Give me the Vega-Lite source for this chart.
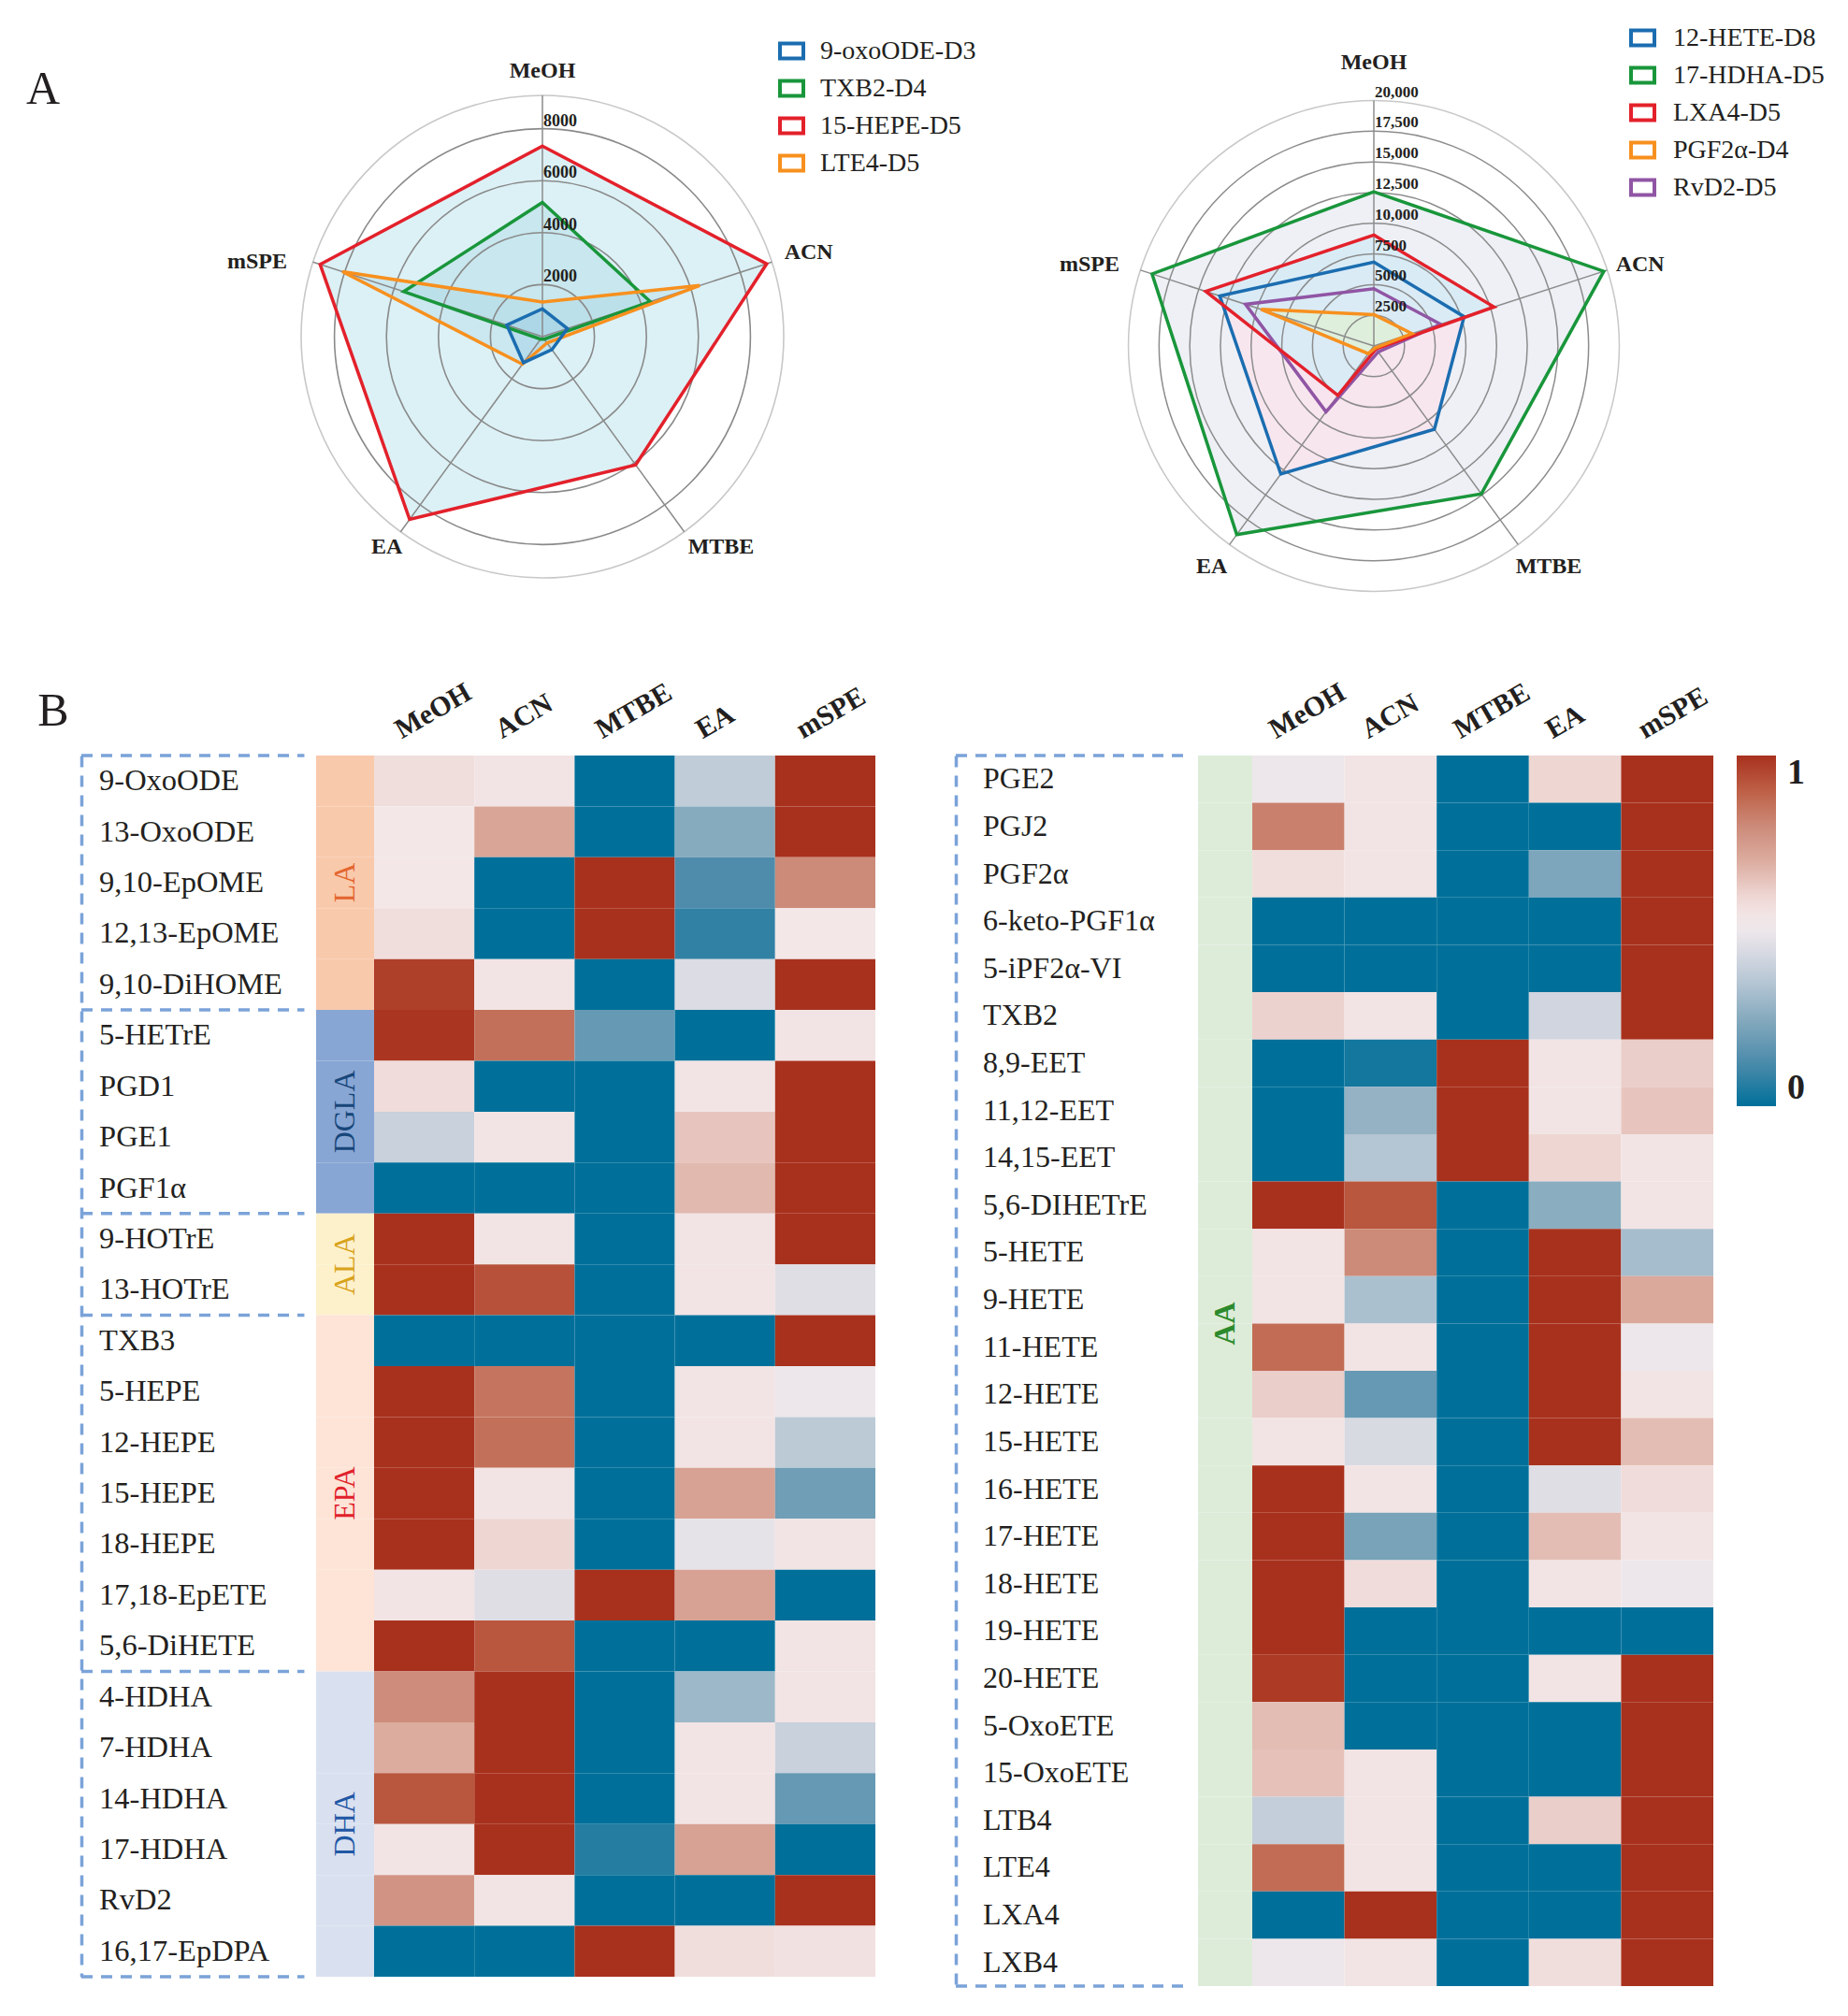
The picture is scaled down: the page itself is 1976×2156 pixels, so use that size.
{
  "$schema": "https://vega.github.io/schema/vega-lite/v6.json",
  "background": "white",
  "padding": {"left": 27, "top": 26, "right": 5, "bottom": 5},
  "config": {"view": {"stroke": null}, "font": "Liberation Serif"},
  "datasets": {
    "radarA": [
      {"series": "15-HEPE-D5", "axis": "MeOH", "value": 7330},
      {"series": "15-HEPE-D5", "axis": "ACN", "value": 9070},
      {"series": "15-HEPE-D5", "axis": "MTBE", "value": 6100},
      {"series": "15-HEPE-D5", "axis": "EA", "value": 8690},
      {"series": "15-HEPE-D5", "axis": "mSPE", "value": 8990},
      {"series": "TXB2-D4", "axis": "MeOH", "value": 5160},
      {"series": "TXB2-D4", "axis": "ACN", "value": 4360},
      {"series": "TXB2-D4", "axis": "MTBE", "value": 120},
      {"series": "TXB2-D4", "axis": "EA", "value": 120},
      {"series": "TXB2-D4", "axis": "mSPE", "value": 5610},
      {"series": "LTE4-D5", "axis": "MeOH", "value": 1330},
      {"series": "LTE4-D5", "axis": "ACN", "value": 6360},
      {"series": "LTE4-D5", "axis": "MTBE", "value": 300},
      {"series": "LTE4-D5", "axis": "EA", "value": 1310},
      {"series": "LTE4-D5", "axis": "mSPE", "value": 8090},
      {"series": "9-oxoODE-D3", "axis": "MeOH", "value": 1070},
      {"series": "9-oxoODE-D3", "axis": "ACN", "value": 1010},
      {"series": "9-oxoODE-D3", "axis": "MTBE", "value": 620},
      {"series": "9-oxoODE-D3", "axis": "EA", "value": 1240},
      {"series": "9-oxoODE-D3", "axis": "mSPE", "value": 1440}
    ],
    "radarB": [
      {"series": "17-HDHA-D5", "axis": "MeOH", "value": 12560},
      {"series": "17-HDHA-D5", "axis": "ACN", "value": 19700},
      {"series": "17-HDHA-D5", "axis": "MTBE", "value": 14900},
      {"series": "17-HDHA-D5", "axis": "EA", "value": 19000},
      {"series": "17-HDHA-D5", "axis": "mSPE", "value": 19000},
      {"series": "12-HETE-D8", "axis": "MeOH", "value": 6840},
      {"series": "12-HETE-D8", "axis": "ACN", "value": 7730},
      {"series": "12-HETE-D8", "axis": "MTBE", "value": 8390},
      {"series": "12-HETE-D8", "axis": "EA", "value": 12900},
      {"series": "12-HETE-D8", "axis": "mSPE", "value": 13200},
      {"series": "RvD2-D5", "axis": "MeOH", "value": 4670},
      {"series": "RvD2-D5", "axis": "ACN", "value": 5720},
      {"series": "RvD2-D5", "axis": "MTBE", "value": 600},
      {"series": "RvD2-D5", "axis": "EA", "value": 6630},
      {"series": "RvD2-D5", "axis": "mSPE", "value": 11000},
      {"series": "LXA4-D5", "axis": "MeOH", "value": 9040},
      {"series": "LXA4-D5", "axis": "ACN", "value": 10300},
      {"series": "LXA4-D5", "axis": "MTBE", "value": 300},
      {"series": "LXA4-D5", "axis": "EA", "value": 4980},
      {"series": "LXA4-D5", "axis": "mSPE", "value": 14400},
      {"series": "PGF2α-D4", "axis": "MeOH", "value": 2560},
      {"series": "PGF2α-D4", "axis": "ACN", "value": 3260},
      {"series": "PGF2α-D4", "axis": "MTBE", "value": 200},
      {"series": "PGF2α-D4", "axis": "EA", "value": 770},
      {"series": "PGF2α-D4", "axis": "mSPE", "value": 9660}
    ],
    "axes": [{"axis": "MeOH"}, {"axis": "ACN"}, {"axis": "MTBE"}, {"axis": "EA"}, {"axis": "mSPE"}],
    "ringsA": [
      {"r": 2000, "label": "2000"}, {"r": 4000, "label": "4000"}, {"r": 6000, "label": "6000"}, {"r": 8000, "label": "8000"}, {"r": 9280, "label": ""}
    ],
    "ringsB": [
      {"r": 2500, "label": "2500"}, {"r": 5000, "label": "5000"}, {"r": 7500, "label": "7500"}, {"r": 10000, "label": "10,000"},
      {"r": 12500, "label": "12,500"}, {"r": 15000, "label": "15,000"}, {"r": 17500, "label": "17,500"}, {"r": 20000, "label": "20,000"}
    ],
    "lblA": [{"t": "A"}],
    "lblB": [{"t": "B"}],
    "heatL": [
      {"group": "LA", "name": "9-OxoODE", "MeOH": 0.57, "ACN": 0.55, "MTBE": 0, "EA": 0.38, "mSPE": 1},
      {"group": "LA", "name": "13-OxoODE", "MeOH": 0.54, "ACN": 0.72, "MTBE": 0, "EA": 0.25, "mSPE": 1},
      {"group": "LA", "name": "9,10-EpOME", "MeOH": 0.54, "ACN": 0, "MTBE": 1, "EA": 0.13, "mSPE": 0.8},
      {"group": "LA", "name": "12,13-EpOME", "MeOH": 0.57, "ACN": 0, "MTBE": 1, "EA": 0.08, "mSPE": 0.54},
      {"group": "LA", "name": "9,10-DiHOME", "MeOH": 0.97, "ACN": 0.55, "MTBE": 0, "EA": 0.45, "mSPE": 1},
      {"group": "DGLA", "name": "5-HETrE", "MeOH": 0.99, "ACN": 0.86, "MTBE": 0.18, "EA": 0, "mSPE": 0.55},
      {"group": "DGLA", "name": "PGD1", "MeOH": 0.58, "ACN": 0, "MTBE": 0, "EA": 0.55, "mSPE": 1},
      {"group": "DGLA", "name": "PGE1", "MeOH": 0.4, "ACN": 0.55, "MTBE": 0, "EA": 0.64, "mSPE": 1},
      {"group": "DGLA", "name": "PGF1α", "MeOH": 0, "ACN": 0, "MTBE": 0, "EA": 0.67, "mSPE": 1},
      {"group": "ALA", "name": "9-HOTrE", "MeOH": 1, "ACN": 0.55, "MTBE": 0, "EA": 0.55, "mSPE": 1},
      {"group": "ALA", "name": "13-HOTrE", "MeOH": 1, "ACN": 0.93, "MTBE": 0, "EA": 0.55, "mSPE": 0.46},
      {"group": "EPA", "name": "TXB3", "MeOH": 0, "ACN": 0, "MTBE": 0, "EA": 0, "mSPE": 1},
      {"group": "EPA", "name": "5-HEPE", "MeOH": 1, "ACN": 0.85, "MTBE": 0, "EA": 0.55, "mSPE": 0.5},
      {"group": "EPA", "name": "12-HEPE", "MeOH": 1, "ACN": 0.86, "MTBE": 0, "EA": 0.55, "mSPE": 0.37},
      {"group": "EPA", "name": "15-HEPE", "MeOH": 1, "ACN": 0.55, "MTBE": 0, "EA": 0.73, "mSPE": 0.2},
      {"group": "EPA", "name": "18-HEPE", "MeOH": 1, "ACN": 0.6, "MTBE": 0, "EA": 0.48, "mSPE": 0.55},
      {"group": "EPA", "name": "17,18-EpETE", "MeOH": 0.55, "ACN": 0.46, "MTBE": 1, "EA": 0.73, "mSPE": 0},
      {"group": "EPA", "name": "5,6-DiHETE", "MeOH": 1, "ACN": 0.92, "MTBE": 0, "EA": 0, "mSPE": 0.55},
      {"group": "DHA", "name": "4-HDHA", "MeOH": 0.79, "ACN": 1, "MTBE": 0, "EA": 0.3, "mSPE": 0.55},
      {"group": "DHA", "name": "7-HDHA", "MeOH": 0.7, "ACN": 1, "MTBE": 0, "EA": 0.55, "mSPE": 0.4},
      {"group": "DHA", "name": "14-HDHA", "MeOH": 0.92, "ACN": 1, "MTBE": 0, "EA": 0.55, "mSPE": 0.18},
      {"group": "DHA", "name": "17-HDHA", "MeOH": 0.55, "ACN": 1, "MTBE": 0.06, "EA": 0.73, "mSPE": 0},
      {"group": "DHA", "name": "RvD2", "MeOH": 0.77, "ACN": 0.55, "MTBE": 0, "EA": 0, "mSPE": 1},
      {"group": "DHA", "name": "16,17-EpDPA", "MeOH": 0, "ACN": 0, "MTBE": 1, "EA": 0.57, "mSPE": 0.56}
    ],
    "heatR": [
      {"group": "AA", "name": "PGE2", "MeOH": 0.5, "ACN": 0.55, "MTBE": 0, "EA": 0.6, "mSPE": 1},
      {"group": "AA", "name": "PGJ2", "MeOH": 0.82, "ACN": 0.55, "MTBE": 0, "EA": 0, "mSPE": 1},
      {"group": "AA", "name": "PGF2α", "MeOH": 0.57, "ACN": 0.55, "MTBE": 0, "EA": 0.23, "mSPE": 1},
      {"group": "AA", "name": "6-keto-PGF1α", "MeOH": 0, "ACN": 0, "MTBE": 0, "EA": 0, "mSPE": 1},
      {"group": "AA", "name": "5-iPF2α-VI", "MeOH": 0, "ACN": 0, "MTBE": 0, "EA": 0, "mSPE": 1},
      {"group": "AA", "name": "TXB2", "MeOH": 0.61, "ACN": 0.55, "MTBE": 0, "EA": 0.42, "mSPE": 1},
      {"group": "AA", "name": "8,9-EET", "MeOH": 0, "ACN": 0.03, "MTBE": 1, "EA": 0.55, "mSPE": 0.62},
      {"group": "AA", "name": "11,12-EET", "MeOH": 0, "ACN": 0.28, "MTBE": 1, "EA": 0.55, "mSPE": 0.64},
      {"group": "AA", "name": "14,15-EET", "MeOH": 0, "ACN": 0.35, "MTBE": 1, "EA": 0.6, "mSPE": 0.55},
      {"group": "AA", "name": "5,6-DIHETrE", "MeOH": 1, "ACN": 0.92, "MTBE": 0, "EA": 0.26, "mSPE": 0.55},
      {"group": "AA", "name": "5-HETE", "MeOH": 0.55, "ACN": 0.8, "MTBE": 0, "EA": 1, "mSPE": 0.32},
      {"group": "AA", "name": "9-HETE", "MeOH": 0.55, "ACN": 0.33, "MTBE": 0, "EA": 1, "mSPE": 0.71},
      {"group": "AA", "name": "11-HETE", "MeOH": 0.87, "ACN": 0.55, "MTBE": 0, "EA": 1, "mSPE": 0.5},
      {"group": "AA", "name": "12-HETE", "MeOH": 0.62, "ACN": 0.18, "MTBE": 0, "EA": 1, "mSPE": 0.55},
      {"group": "AA", "name": "15-HETE", "MeOH": 0.55, "ACN": 0.44, "MTBE": 0, "EA": 1, "mSPE": 0.66},
      {"group": "AA", "name": "16-HETE", "MeOH": 1, "ACN": 0.55, "MTBE": 0, "EA": 0.46, "mSPE": 0.58},
      {"group": "AA", "name": "17-HETE", "MeOH": 1, "ACN": 0.22, "MTBE": 0, "EA": 0.66, "mSPE": 0.55},
      {"group": "AA", "name": "18-HETE", "MeOH": 1, "ACN": 0.58, "MTBE": 0, "EA": 0.55, "mSPE": 0.5},
      {"group": "AA", "name": "19-HETE", "MeOH": 1, "ACN": 0, "MTBE": 0, "EA": 0, "mSPE": 0},
      {"group": "AA", "name": "20-HETE", "MeOH": 0.98, "ACN": 0, "MTBE": 0, "EA": 0.55, "mSPE": 1},
      {"group": "AA", "name": "5-OxoETE", "MeOH": 0.66, "ACN": 0, "MTBE": 0, "EA": 0, "mSPE": 1},
      {"group": "AA", "name": "15-OxoETE", "MeOH": 0.65, "ACN": 0.55, "MTBE": 0, "EA": 0, "mSPE": 1},
      {"group": "AA", "name": "LTB4", "MeOH": 0.39, "ACN": 0.55, "MTBE": 0, "EA": 0.62, "mSPE": 1},
      {"group": "AA", "name": "LTE4", "MeOH": 0.87, "ACN": 0.55, "MTBE": 0, "EA": 0, "mSPE": 1},
      {"group": "AA", "name": "LXA4", "MeOH": 0, "ACN": 1, "MTBE": 0, "EA": 0, "mSPE": 1},
      {"group": "AA", "name": "LXB4", "MeOH": 0.5, "ACN": 0.55, "MTBE": 0, "EA": 0.57, "mSPE": 1}
    ]
  },
  "resolve": {"scale": {"color": "independent", "fill": "independent", "size": "independent"}},
  "spacing": -62,
  "vconcat": [
    {
      "spacing": 88,
      "resolve": {"scale": {"color": "independent", "fill": "independent", "size": "independent"}},
      "hconcat": [
        {
          "width": 785,
          "height": 584,
          "layer": [
            {
              "data": {"name": "radarA"},
              "transform": [
                {"calculate": "indexof(['MeOH','ACN','MTBE','EA','mSPE'], datum.axis)", "as": "idx"},
                {"calculate": "PI/2 - datum.idx*2*PI/5", "as": "ang"},
                {"calculate": "datum.value*cos(datum.ang)", "as": "px"},
                {"calculate": "datum.value*sin(datum.ang)", "as": "py"}
              ],
              "mark": {"type": "line", "interpolate": "linear-closed", "filled": true, "strokeWidth": 0},
              "encoding": {
                "x": {"field": "px", "type": "quantitative", "scale": {"domain": [-17733, 10503], "nice": false, "zero": false}, "axis": null},
                "y": {"field": "py", "type": "quantitative", "scale": {"domain": [-10503, 10503], "nice": false, "zero": false}, "axis": null},
                "order": {"field": "idx", "type": "quantitative"},
                "fill": {"field": "series", "type": "nominal", "scale": {"domain": ["15-HEPE-D5", "TXB2-D4", "LTE4-D5", "9-oxoODE-D3"], "range": ["#dcf1f6", "rgba(150,205,220,0.28)", "rgba(150,205,220,0.25)", "rgba(140,195,225,0.3)"]}, "legend": null}
              }
            },
            {
              "data": {"name": "ringsA"},
              "transform": [{"calculate": "0", "as": "z"}],
              "mark": {"type": "point", "shape": "circle", "filled": false, "strokeWidth": 1.6, "opacity": 1},
              "encoding": {
                "x": {"field": "z", "type": "quantitative", "axis": null},
                "y": {"field": "z", "type": "quantitative", "axis": null},
                "size": {"field": "r", "type": "quantitative", "scale": {"type": "pow", "exponent": 2, "zero": true, "domain": [0, 10503], "range": [0, 341056]}, "legend": null},
                "stroke": {"condition": {"test": "datum.r > 8500", "value": "#c8c8c8"}, "value": "#8a8a8a"}
              }
            },
            {
              "data": {"name": "axes"},
              "transform": [
                {"calculate": "indexof(['MeOH','ACN','MTBE','EA','mSPE'], datum.axis)", "as": "idx"},
                {"calculate": "PI/2 - datum.idx*2*PI/5", "as": "ang"},
                {"calculate": "0", "as": "z"},
                {"calculate": "9280*cos(datum.ang)", "as": "ex"},
                {"calculate": "9280*sin(datum.ang)", "as": "ey"}
              ],
              "mark": {"type": "rule", "color": "#8a8a8a", "strokeWidth": 1.5},
              "encoding": {
                "x": {"field": "z", "type": "quantitative", "axis": null},
                "y": {"field": "z", "type": "quantitative", "axis": null},
                "x2": {"field": "ex"},
                "y2": {"field": "ey"}
              }
            },
            {
              "data": {"name": "radarA"},
              "transform": [
                {"calculate": "indexof(['MeOH','ACN','MTBE','EA','mSPE'], datum.axis)", "as": "idx"},
                {"calculate": "PI/2 - datum.idx*2*PI/5", "as": "ang"},
                {"calculate": "datum.value*cos(datum.ang)", "as": "px"},
                {"calculate": "datum.value*sin(datum.ang)", "as": "py"}
              ],
              "mark": {"type": "line", "interpolate": "linear-closed", "strokeWidth": 3.5},
              "encoding": {
                "x": {"field": "px", "type": "quantitative", "axis": null},
                "y": {"field": "py", "type": "quantitative", "axis": null},
                "order": {"field": "idx", "type": "quantitative"},
                "color": {
                  "field": "series", "type": "nominal",
                  "scale": {"domain": ["9-oxoODE-D3", "TXB2-D4", "15-HEPE-D5", "LTE4-D5"], "range": ["#1b6db0", "#19963b", "#e3212b", "#f7901e"]},
                  "legend": {"orient": "none", "legendX": 745, "legendY": -28, "title": null, "symbolType": "M-1,-0.64H1V0.64H-1Z", "symbolSize": 625, "symbolStrokeWidth": 4, "symbolFillColor": "white", "labelFont": "Liberation Serif", "labelFontSize": 28, "labelColor": "#231f20", "labelOffset": 16, "rowPadding": 7, "labelLimit": 400, "padding": 0}
                }
              }
            },
            {
              "data": {"name": "ringsA"},
              "transform": [{"filter": "datum.label != ''"}, {"calculate": "0", "as": "z"}],
              "mark": {"type": "text", "align": "left", "baseline": "alphabetic", "dx": 1, "dy": -3, "fontSize": 18, "fontWeight": "bold", "font": "Liberation Serif", "color": "#231f20"},
              "encoding": {
                "x": {"field": "z", "type": "quantitative", "axis": null},
                "y": {"field": "r", "type": "quantitative", "axis": null},
                "text": {"field": "label"}
              }
            },
            {
              "data": {"name": "axes"},
              "transform": [
                {"filter": "datum.axis == 'MeOH' || datum.axis == 'MTBE' || datum.axis == 'EA'"},
                {"calculate": "datum.axis == 'MeOH' ? 0 : datum.axis == 'MTBE' ? 6869 : -5983", "as": "lx"},
                {"calculate": "datum.axis == 'MeOH' ? 10215 : -8094", "as": "ly"}
              ],
              "mark": {"type": "text", "align": "center", "baseline": "middle", "fontSize": 24, "fontWeight": "bold", "font": "Liberation Serif", "color": "#231f20"},
              "encoding": {
                "x": {"field": "lx", "type": "quantitative", "axis": null},
                "y": {"field": "ly", "type": "quantitative", "axis": null},
                "text": {"field": "axis"}
              }
            },
            {
              "data": {"name": "axes"},
              "transform": [
                {"filter": "datum.axis == 'ACN'"},
                {"calculate": "9305", "as": "lx"},
                {"calculate": "3220", "as": "ly"}
              ],
              "mark": {"type": "text", "align": "left", "baseline": "middle", "fontSize": 24, "fontWeight": "bold", "font": "Liberation Serif", "color": "#231f20"},
              "encoding": {
                "x": {"field": "lx", "type": "quantitative", "axis": null},
                "y": {"field": "ly", "type": "quantitative", "axis": null},
                "text": {"field": "axis"}
              }
            },
            {
              "data": {"name": "axes"},
              "transform": [
                {"filter": "datum.axis == 'mSPE'"},
                {"calculate": "-9818", "as": "lx"},
                {"calculate": "2895", "as": "ly"}
              ],
              "mark": {"type": "text", "align": "right", "baseline": "middle", "fontSize": 24, "fontWeight": "bold", "font": "Liberation Serif", "color": "#231f20"},
              "encoding": {
                "x": {"field": "lx", "type": "quantitative", "axis": null},
                "y": {"field": "ly", "type": "quantitative", "axis": null},
                "text": {"field": "axis"}
              }
            },
            {
              "data": {"name": "lblA"},
              "transform": [{"calculate": "-19208", "as": "tx"}, {"calculate": "8956", "as": "ty"}],
              "mark": {"type": "text", "align": "center", "baseline": "alphabetic", "fontSize": 50, "font": "Liberation Serif", "color": "#231f20"},
              "encoding": {
                "x": {"field": "tx", "type": "quantitative", "axis": null},
                "y": {"field": "ty", "type": "quantitative", "axis": null},
                "text": {"field": "t"}
              }
            },
            {
              "data": {"name": "lblB"},
              "transform": [{"calculate": "-18812", "as": "tx"}, {"calculate": "-14964", "as": "ty"}],
              "mark": {"type": "text", "align": "center", "baseline": "alphabetic", "fontSize": 50, "font": "Liberation Serif", "color": "#231f20"},
              "encoding": {
                "x": {"field": "tx", "type": "quantitative", "axis": null},
                "y": {"field": "ty", "type": "quantitative", "axis": null},
                "text": {"field": "t"}
              }
            }
          ]
        },
        {
          "width": 584,
          "height": 584,
          "layer": [
            {
              "data": {"name": "radarB"},
              "transform": [
                {"calculate": "indexof(['MeOH','ACN','MTBE','EA','mSPE'], datum.axis)", "as": "idx"},
                {"calculate": "PI/2 - datum.idx*2*PI/5", "as": "ang"},
                {"calculate": "datum.value*cos(datum.ang)", "as": "px"},
                {"calculate": "datum.value*sin(datum.ang)", "as": "py"}
              ],
              "mark": {"type": "line", "interpolate": "linear-closed", "filled": true, "strokeWidth": 0},
              "encoding": {
                "x": {"field": "px", "type": "quantitative", "scale": {"domain": [-22250, 22250], "nice": false, "zero": false}, "axis": null},
                "y": {"field": "py", "type": "quantitative", "scale": {"domain": [-21488, 23012], "nice": false, "zero": false}, "axis": null},
                "order": {"field": "idx", "type": "quantitative"},
                "fill": {"field": "series", "type": "nominal", "scale": {"domain": ["17-HDHA-D5", "12-HETE-D8", "RvD2-D5", "LXA4-D5", "PGF2α-D4"], "range": ["#eef0f6", "#f8e6ef", "#f7e4ee", "rgba(214,235,246,0.9)", "rgba(222,240,216,0.9)"]}, "legend": null}
              }
            },
            {
              "data": {"name": "ringsB"},
              "transform": [{"calculate": "0", "as": "z"}],
              "mark": {"type": "point", "shape": "circle", "filled": false, "strokeWidth": 1.5, "opacity": 1},
              "encoding": {
                "x": {"field": "z", "type": "quantitative", "axis": null},
                "y": {"field": "z", "type": "quantitative", "axis": null},
                "size": {"field": "r", "type": "quantitative", "scale": {"type": "pow", "exponent": 2, "zero": true, "domain": [0, 22250], "range": [0, 341056]}, "legend": null},
                "stroke": {"condition": {"test": "datum.r >= 20000", "value": "#c8c8c8"}, "value": "#8c8c8c"}
              }
            },
            {
              "data": {"name": "axes"},
              "transform": [
                {"calculate": "indexof(['MeOH','ACN','MTBE','EA','mSPE'], datum.axis)", "as": "idx"},
                {"calculate": "PI/2 - datum.idx*2*PI/5", "as": "ang"},
                {"calculate": "0", "as": "z"},
                {"calculate": "20000*cos(datum.ang)", "as": "ex"},
                {"calculate": "20000*sin(datum.ang)", "as": "ey"}
              ],
              "mark": {"type": "rule", "color": "#8c8c8c", "strokeWidth": 1.5},
              "encoding": {
                "x": {"field": "z", "type": "quantitative", "axis": null},
                "y": {"field": "z", "type": "quantitative", "axis": null},
                "x2": {"field": "ex"},
                "y2": {"field": "ey"}
              }
            },
            {
              "data": {"name": "radarB"},
              "transform": [
                {"calculate": "indexof(['MeOH','ACN','MTBE','EA','mSPE'], datum.axis)", "as": "idx"},
                {"calculate": "PI/2 - datum.idx*2*PI/5", "as": "ang"},
                {"calculate": "datum.value*cos(datum.ang)", "as": "px"},
                {"calculate": "datum.value*sin(datum.ang)", "as": "py"}
              ],
              "mark": {"type": "line", "interpolate": "linear-closed", "strokeWidth": 3.5},
              "encoding": {
                "x": {"field": "px", "type": "quantitative", "axis": null},
                "y": {"field": "py", "type": "quantitative", "axis": null},
                "order": {"field": "idx", "type": "quantitative"},
                "color": {
                  "field": "series", "type": "nominal",
                  "scale": {"domain": ["12-HETE-D8", "17-HDHA-D5", "LXA4-D5", "PGF2α-D4", "RvD2-D5"], "range": ["#1b6db0", "#19963b", "#e3212b", "#f7901e", "#9055a4"]},
                  "legend": {"orient": "none", "legendX": 565, "legendY": -42, "title": null, "symbolType": "M-1,-0.64H1V0.64H-1Z", "symbolSize": 625, "symbolStrokeWidth": 4, "symbolFillColor": "white", "labelFont": "Liberation Serif", "labelFontSize": 28, "labelColor": "#231f20", "labelOffset": 18, "rowPadding": 7, "labelLimit": 400, "padding": 0}
                }
              }
            },
            {
              "data": {"name": "ringsB"},
              "transform": [{"calculate": "0", "as": "z"}],
              "mark": {"type": "text", "align": "left", "baseline": "alphabetic", "dx": 1, "dy": -4, "fontSize": 17, "fontWeight": "bold", "font": "Liberation Serif", "color": "#231f20"},
              "encoding": {
                "x": {"field": "z", "type": "quantitative", "axis": null},
                "y": {"field": "r", "type": "quantitative", "axis": null},
                "text": {"field": "label"}
              }
            },
            {
              "data": {"name": "axes"},
              "transform": [
                {"filter": "datum.axis == 'MeOH' || datum.axis == 'MTBE' || datum.axis == 'EA'"},
                {"calculate": "datum.axis == 'MeOH' ? 0 : datum.axis == 'MTBE' ? 14253 : -13213", "as": "lx"},
                {"calculate": "datum.axis == 'MeOH' ? 23084 : -17986", "as": "ly"}
              ],
              "mark": {"type": "text", "align": "center", "baseline": "middle", "fontSize": 24, "fontWeight": "bold", "font": "Liberation Serif", "color": "#231f20"},
              "encoding": {
                "x": {"field": "lx", "type": "quantitative", "axis": null},
                "y": {"field": "ly", "type": "quantitative", "axis": null},
                "text": {"field": "axis"}
              }
            },
            {
              "data": {"name": "axes"},
              "transform": [
                {"filter": "datum.axis == 'ACN'"},
                {"calculate": "19712", "as": "lx"},
                {"calculate": "6600", "as": "ly"}
              ],
              "mark": {"type": "text", "align": "left", "baseline": "middle", "fontSize": 24, "fontWeight": "bold", "font": "Liberation Serif", "color": "#231f20"},
              "encoding": {
                "x": {"field": "lx", "type": "quantitative", "axis": null},
                "y": {"field": "ly", "type": "quantitative", "axis": null},
                "text": {"field": "axis"}
              }
            },
            {
              "data": {"name": "axes"},
              "transform": [
                {"filter": "datum.axis == 'mSPE'"},
                {"calculate": "-20726", "as": "lx"},
                {"calculate": "6630", "as": "ly"}
              ],
              "mark": {"type": "text", "align": "right", "baseline": "middle", "fontSize": 24, "fontWeight": "bold", "font": "Liberation Serif", "color": "#231f20"},
              "encoding": {
                "x": {"field": "lx", "type": "quantitative", "axis": null},
                "y": {"field": "ly", "type": "quantitative", "axis": null},
                "text": {"field": "axis"}
              }
            }
          ]
        }
      ]
    },
    {
      "spacing": 84,
      "resolve": {"scale": {"color": "independent", "fill": "independent"}},
      "hconcat": [
        {
          "spacing": 0,
          "resolve": {"scale": {"color": "independent", "fill": "independent"}},
          "hconcat": [
            {
              "width": 251,
              "height": 1306,
              "data": {"name": "heatL"},
              "transform": [{"calculate": "0.076", "as": "tx"}, {"calculate": "0", "as": "x0"}, {"calculate": "0.95", "as": "x1"}],
              "layer": [
                {
                  "mark": {"type": "text", "align": "left", "baseline": "middle", "fontSize": 32.5, "font": "Liberation Serif", "color": "#231f20"},
                  "encoding": {
                    "y": {"field": "name", "type": "nominal", "sort": null, "axis": {"orient": "left", "labels": false, "ticks": false, "title": null, "grid": false, "domain": true, "domainDash": [12, 9], "domainColor": "#7ba3d9", "domainWidth": 3.5}},
                    "x": {"field": "tx", "type": "quantitative", "scale": {"domain": [0, 1], "nice": false, "zero": false}, "axis": null},
                    "text": {"field": "name"}
                  }
                },
                {
                  "transform": [{"filter": "indexof(['9-OxoODE','5-HETrE','9-HOTrE','TXB3','4-HDHA'], datum.name) >= 0"}],
                  "mark": {"type": "rule", "strokeDash": [12, 9], "strokeWidth": 3.5, "color": "#7ba3d9"},
                  "encoding": {
                    "y": {"field": "name", "type": "nominal", "sort": null, "bandPosition": 0},
                    "x": {"field": "x0", "type": "quantitative"},
                    "x2": {"field": "x1"}
                  }
                },
                {
                  "transform": [{"filter": "datum.name == '16,17-EpDPA'"}],
                  "mark": {"type": "rule", "strokeDash": [12, 9], "strokeWidth": 3.5, "color": "#7ba3d9"},
                  "encoding": {
                    "y": {"field": "name", "type": "nominal", "sort": null, "bandPosition": 1},
                    "x": {"field": "x0", "type": "quantitative"},
                    "x2": {"field": "x1"}
                  }
                }
              ]
            },
            {
              "width": 62,
              "height": 1306,
              "data": {"name": "heatL"},
              "layer": [
                {
                  "mark": {"type": "rect"},
                  "encoding": {
                    "y": {"field": "name", "type": "nominal", "sort": null, "axis": null, "scale": {"paddingInner": 0, "paddingOuter": 0}},
                    "fill": {"field": "group", "type": "nominal", "scale": {"domain": ["LA", "DGLA", "ALA", "EPA", "DHA"], "range": ["#f9c9ab", "#88a6d4", "#fdf1cc", "#fde4d7", "#d9e0ef"]}, "legend": null}
                  }
                },
                {
                  "transform": [{"filter": "indexof(['9,10-EpOME','15-HEPE'], datum.name) >= 0"}],
                  "mark": {"type": "text", "angle": 270, "align": "center", "baseline": "middle", "fontSize": 32, "font": "Liberation Serif"},
                  "encoding": {
                    "y": {"field": "name", "type": "nominal", "sort": null, "bandPosition": 0.5},
                    "text": {"field": "group"},
                    "color": {"field": "group", "type": "nominal", "scale": {"domain": ["LA", "DGLA", "ALA", "EPA", "DHA"], "range": ["#e4652f", "#17467a", "#d9a31b", "#e1212b", "#1f57a5"]}, "legend": null}
                  }
                },
                {
                  "transform": [{"filter": "indexof(['PGE1','13-HOTrE','17-HDHA'], datum.name) >= 0"}],
                  "mark": {"type": "text", "angle": 270, "align": "center", "baseline": "middle", "fontSize": 32, "font": "Liberation Serif"},
                  "encoding": {
                    "y": {"field": "name", "type": "nominal", "sort": null, "bandPosition": 0},
                    "text": {"field": "group"},
                    "color": {"field": "group", "type": "nominal", "scale": {"domain": ["LA", "DGLA", "ALA", "EPA", "DHA"], "range": ["#e4652f", "#17467a", "#d9a31b", "#e1212b", "#1f57a5"]}, "legend": null}
                  }
                }
              ]
            },
            {
              "width": 536,
              "height": 1306,
              "data": {"name": "heatL"},
              "transform": [{"fold": ["MeOH", "ACN", "MTBE", "EA", "mSPE"], "as": ["col", "v"]}],
              "mark": {"type": "rect"},
              "encoding": {
                "x": {"field": "col", "type": "nominal", "sort": ["MeOH", "ACN", "MTBE", "EA", "mSPE"], "scale": {"paddingInner": 0, "paddingOuter": 0},
                  "axis": {"orient": "top", "title": null, "labelAngle": -30, "labelAlign": "left", "labelBaseline": "alphabetic", "labelFont": "Liberation Serif", "labelFontSize": 30, "labelFontWeight": "bold", "labelColor": "#231f20", "labelOffset": -24, "labelPadding": 18, "ticks": false, "tickSize": 0, "domain": false}},
                "y": {"field": "name", "type": "nominal", "sort": null, "axis": null, "scale": {"paddingInner": 0, "paddingOuter": 0}},
                "color": {"field": "v", "type": "quantitative",
                  "scale": {"domain": [0, 0.12, 0.25, 0.35, 0.45, 0.52, 0.6, 0.7, 0.8, 0.9, 1], "range": ["#00709a", "#4a8aaa", "#86aabe", "#b4c5d3", "#dcdce4", "#f4ecee", "#eed6d3", "#dcac9f", "#cc8a78", "#bd5f46", "#a8311d"], "interpolate": "rgb"},
                  "legend": null}
              }
            }
          ]
        },
        {
          "spacing": 0,
          "resolve": {"scale": {"color": "independent", "fill": "independent"}},
          "hconcat": [
            {
              "width": 259,
              "height": 1316,
              "data": {"name": "heatR"},
              "transform": [{"calculate": "0.112", "as": "tx"}, {"calculate": "0", "as": "x0"}, {"calculate": "0.957", "as": "x1"}],
              "layer": [
                {
                  "mark": {"type": "text", "align": "left", "baseline": "middle", "fontSize": 32, "font": "Liberation Serif", "color": "#231f20"},
                  "encoding": {
                    "y": {"field": "name", "type": "nominal", "sort": null, "axis": {"orient": "left", "labels": false, "ticks": false, "title": null, "grid": false, "domain": true, "domainDash": [12, 9], "domainColor": "#7ba3d9", "domainWidth": 3.5}},
                    "x": {"field": "tx", "type": "quantitative", "scale": {"domain": [0, 1], "nice": false, "zero": false}, "axis": null},
                    "text": {"field": "name"}
                  }
                },
                {
                  "transform": [{"filter": "datum.name == 'PGE2'"}],
                  "mark": {"type": "rule", "strokeDash": [12, 9], "strokeWidth": 3.5, "color": "#7ba3d9"},
                  "encoding": {
                    "y": {"field": "name", "type": "nominal", "sort": null, "bandPosition": 0},
                    "x": {"field": "x0", "type": "quantitative"},
                    "x2": {"field": "x1"}
                  }
                },
                {
                  "transform": [{"filter": "datum.name == 'LXB4'"}],
                  "mark": {"type": "rule", "strokeDash": [12, 9], "strokeWidth": 3.5, "color": "#7ba3d9"},
                  "encoding": {
                    "y": {"field": "name", "type": "nominal", "sort": null, "bandPosition": 1},
                    "x": {"field": "x0", "type": "quantitative"},
                    "x2": {"field": "x1"}
                  }
                }
              ]
            },
            {
              "width": 58,
              "height": 1316,
              "data": {"name": "heatR"},
              "layer": [
                {
                  "mark": {"type": "rect"},
                  "encoding": {
                    "y": {"field": "name", "type": "nominal", "sort": null, "axis": null, "scale": {"paddingInner": 0, "paddingOuter": 0}},
                    "fill": {"field": "group", "type": "nominal", "scale": {"domain": ["AA"], "range": ["#ddecd9"]}, "legend": null}
                  }
                },
                {
                  "transform": [{"filter": "datum.name == '11-HETE'"}],
                  "mark": {"type": "text", "angle": 270, "align": "center", "baseline": "middle", "fontSize": 32, "fontWeight": "bold", "font": "Liberation Serif"},
                  "encoding": {
                    "y": {"field": "name", "type": "nominal", "sort": null, "bandPosition": 0},
                    "text": {"field": "group"},
                    "color": {"field": "group", "type": "nominal", "scale": {"domain": ["AA"], "range": ["#2c8a2c"]}, "legend": null}
                  }
                }
              ]
            },
            {
              "width": 493,
              "height": 1316,
              "data": {"name": "heatR"},
              "transform": [{"fold": ["MeOH", "ACN", "MTBE", "EA", "mSPE"], "as": ["col", "v"]}],
              "mark": {"type": "rect"},
              "encoding": {
                "x": {"field": "col", "type": "nominal", "sort": ["MeOH", "ACN", "MTBE", "EA", "mSPE"], "scale": {"paddingInner": 0, "paddingOuter": 0},
                  "axis": {"orient": "top", "title": null, "labelAngle": -30, "labelAlign": "left", "labelBaseline": "alphabetic", "labelFont": "Liberation Serif", "labelFontSize": 30, "labelFontWeight": "bold", "labelColor": "#231f20", "labelOffset": -24, "labelPadding": 18, "ticks": false, "tickSize": 0, "domain": false}},
                "y": {"field": "name", "type": "nominal", "sort": null, "axis": null, "scale": {"paddingInner": 0, "paddingOuter": 0}},
                "color": {"field": "v", "type": "quantitative",
                  "scale": {"domain": [0, 0.12, 0.25, 0.35, 0.45, 0.52, 0.6, 0.7, 0.8, 0.9, 1], "range": ["#00709a", "#4a8aaa", "#86aabe", "#b4c5d3", "#dcdce4", "#f4ecee", "#eed6d3", "#dcac9f", "#cc8a78", "#bd5f46", "#a8311d"], "interpolate": "rgb"},
                  "legend": {"orient": "right", "offset": 25, "title": null, "direction": "vertical", "gradientLength": 375, "gradientThickness": 42, "gradientStrokeWidth": 0, "values": [0, 1], "format": "d", "labelFont": "Liberation Serif", "labelFontSize": 38, "labelFontWeight": "bold", "labelColor": "#231f20", "labelOffset": 12, "padding": 0}}
              }
            }
          ]
        }
      ]
    }
  ]
}
